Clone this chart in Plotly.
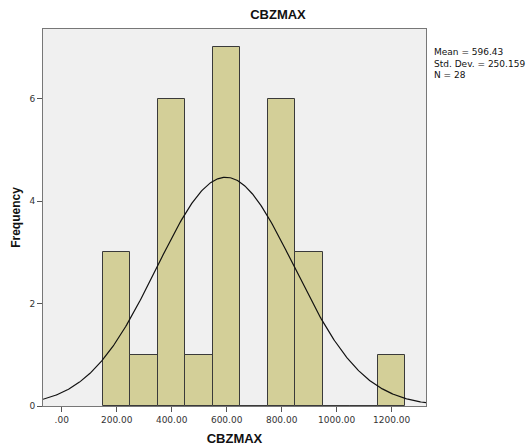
import numpy as np
import plotly.graph_objects as go

# Histogram data (bin edges width 100)
bin_left = [150, 250, 350, 450, 550, 650, 750, 850, 950, 1050, 1150]
counts = [3, 1, 6, 1, 7, 0, 6, 3, 0, 0, 1]
bin_width = 100
mean_val = 596.43
sd_val = 250.159
n_val = 28
x_tickvals = [0, 200, 400, 600, 800, 1000, 1200]
x_ticktext = [".00", "200.00", "400.00", "600.00", "800.00", "1000.00", "1200.00"]
y_tickvals = [0, 2, 4, 6]

x_range = [-68, 1325]
y_range = [0, 7.36]

centers = [b + bin_width / 2 for b in bin_left]
xs = np.linspace(x_range[0], x_range[1], 400)
ys = n_val * bin_width / (sd_val * np.sqrt(2 * np.pi)) * np.exp(-0.5 * ((xs - mean_val) / sd_val) ** 2)

fig = go.Figure()
fig.add_trace(go.Bar(
    x=centers, y=counts, width=bin_width,
    marker=dict(color="#D3CF98", line=dict(color="#3a3a3a", width=1)),
    hoverinfo="skip",
))
fig.add_trace(go.Scatter(x=xs, y=ys, mode="lines", line=dict(color="#111111", width=1.2), hoverinfo="skip"))

L, R, T, B = 43, 426, 29, 406
pw, ph = R - L, B - T
font_family = "DejaVu Sans"
fig.update_layout(
    width=531, height=448,
    margin=dict(l=L, r=531 - R, t=T, b=448 - B, autoexpand=False),
    paper_bgcolor="white", plot_bgcolor="#F0F0F0",
    showlegend=False, bargap=0,
    font=dict(family=font_family, size=9, color="#333333"),
    title=dict(text="<b>CBZMAX</b>", x=278 / 531, xanchor="center", y=1 - 14 / 448, yanchor="middle",
               font=dict(family="Liberation Sans", size=13, color="#111111")),
    xaxis=dict(range=x_range, tickvals=x_tickvals, ticktext=x_ticktext, ticks="outside", ticklen=5,
               tickcolor="#555555", showgrid=False, zeroline=False, showline=True, linecolor="#777777",
               linewidth=1, mirror=True, automargin=False,
               title=dict(text="<b>CBZMAX</b>", font=dict(family="Liberation Sans", size=13, color="#111111"), standoff=10)),
    yaxis=dict(range=y_range, tickvals=y_tickvals, ticks="outside", ticklen=5, tickcolor="#555555",
               showgrid=False, zeroline=False, showline=True, linecolor="#777777", linewidth=1, mirror=True,
               automargin=False,
               title=dict(text="<b>Frequency</b>", font=dict(family="Liberation Sans", size=12, color="#111111"), standoff=6)),
    annotations=[dict(
        x=(432 - L) / pw, y=(B - 45) / ph, xref="paper", yref="paper", xanchor="left", yanchor="top",
        text=f"Mean = {mean_val:.2f}<br>Std. Dev. = {sd_val:.3f}<br>N = {n_val}",
        showarrow=False, align="left", font=dict(family=font_family, size=9, color="#111111"),
    )],
)
fig.write_html("out.html")
